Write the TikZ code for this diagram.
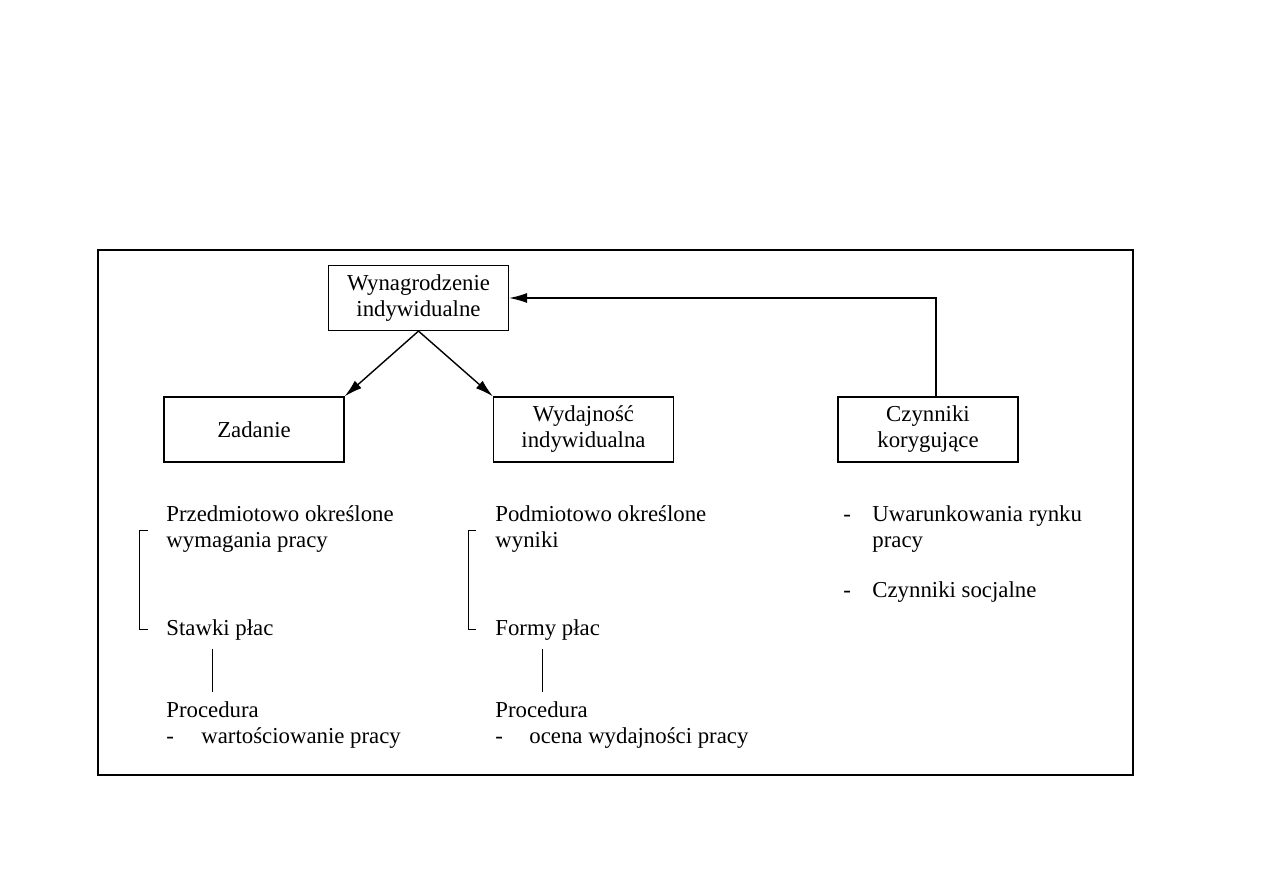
\documentclass[tikz,border=0pt]{standalone}
\usepackage{fontspec}
\setmainfont{Liberation Serif}
\usetikzlibrary{positioning,arrows.meta}

\begin{document}
\begin{tikzpicture}[x=0.5pt, y=-0.5pt, font=\fontsize{11.4}{13}\selectfont,
    box/.style={draw, line width=0.6pt, minimum width=90pt, minimum height=32.5pt, align=center, inner sep=2pt},
    txt/.style={anchor=west, align=left, inner sep=0pt},
    arr/.style={-{Latex[length=9pt,width=5pt]}, line width=0.7pt}]
    \useasboundingbox (0,0) rectangle (1263,893);

    % Frame
    \draw[line width=0.6pt] (98,250) rectangle (1133,775);

    % Boxes
    \node[box] (wyn) at (418.5,298) {Wynagrodzenie\\ indywidualne};
    \node[box] (zad) at (254,429.5) {Zadanie};
    \node[box] (wyd) at (583.5,429.5) {Wydajność\\ indywidualna};
    \node[box] (czy) at (928,429.5) {Czynniki\\ korygujące};

    % Arrows
    \draw[arr] (wyn.south) -- (zad.north east);
    \draw[arr] (wyn.south) -- (wyd.north west);
    \draw[arr] ([xshift=4pt]czy.north) |- (wyn.east);

    % Left column
    \node[txt] (przedm) at (166,529) {Przedmiotowo określone\\ wymagania pracy};
    \node[txt] (stawki) at (166,630) {Stawki płac};
    \node[txt] (proc1) at (166,725) {Procedura\\ \makebox[17.5pt][l]{-}wartościowanie pracy};
    \draw[line width=0.5pt] ([xshift=-9pt,yshift=-0.5pt]przedm.west) -- ++(-8.5,0) |- ([xshift=-9pt,yshift=0.5pt]stawki.west);
    \draw[line width=0.5pt] ([xshift=23pt,yshift=-4pt]stawki.south west) -- ([xshift=23pt,yshift=4.5pt]proc1.north west);

    % Middle column
    \node[txt] (podm) at (495,529) {Podmiotowo określone\\ wyniki};
    \node[txt] (formy) at (495,630) {Formy płac};
    \node[txt] (proc2) at (495,725) {Procedura\\ \makebox[17pt][l]{-}ocena wydajności pracy};
    \draw[line width=0.5pt] ([xshift=-9.5pt,yshift=-0.5pt]podm.west) -- ++(-7.5,0) |- ([xshift=-9.5pt,yshift=0.5pt]formy.west);
    \draw[line width=0.5pt] ([xshift=23.5pt,yshift=-4pt]formy.south west) -- ([xshift=23.5pt,yshift=4.5pt]proc2.north west);

    % Right column
    \node[txt] (uwar) at (843,529) {\makebox[14.5pt][l]{-}Uwarunkowania rynku\\ \hspace*{14.5pt}pracy};
    \node[txt] (socj) at (843,592) {\makebox[14.5pt][l]{-}Czynniki socjalne};
\end{tikzpicture}
\end{document}
